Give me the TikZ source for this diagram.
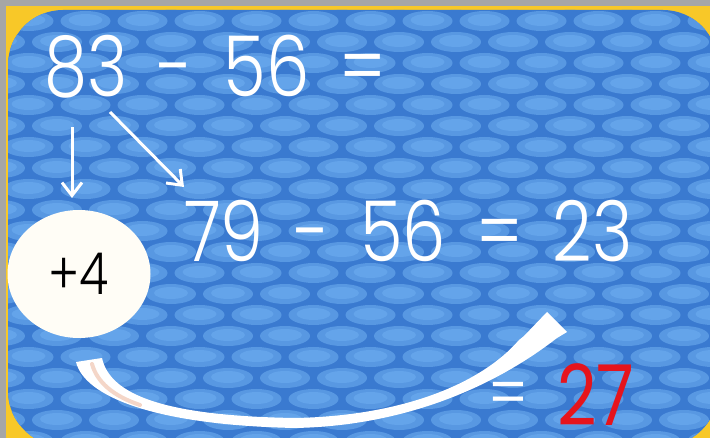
\documentclass[tikz,border=0pt]{standalone}
\usepackage{fontspec}
\newfontfamily\digitfont{Poppins Light}[FakeStretch=0.82,WordSpace=1.6]
\newfontfamily\redfont{Poppins}[FakeStretch=0.82]
\usetikzlibrary{arrows.meta,shapes.geometric}
\definecolor{outergray}{RGB}{166,166,166}
\definecolor{frameyellow}{RGB}{248,200,40}
\definecolor{netblue}{RGB}{58,122,208}
\definecolor{cellblue}{RGB}{88,152,226}
\definecolor{celllight}{RGB}{100,164,234}
\definecolor{cream}{RGB}{255,253,246}
\definecolor{peach}{RGB}{244,214,200}
\definecolor{ansred}{RGB}{230,20,28}
\tikzset{
  eqtext/.style={text=white, font=\digitfont\fontsize{84}{84}\selectfont, inner sep=0pt, anchor=base west},
  arr/.style={white, line width=3pt, -{Straight Barb[length=13pt,width=20pt,line width=3pt]}},
  bubble/.style={ellipse, fill=cream, minimum width=143pt, minimum height=128pt, inner sep=0pt,
    font=\digitfont\fontsize{58}{58}\selectfont, text=black}
}
\begin{document}
\begin{tikzpicture}[x=1pt,y=-1pt]
\useasboundingbox (0,0) rectangle (710,438);
\fill[outergray] (0,0) rectangle (710,438);
\fill[frameyellow] (6,6) rectangle (710,438);
\begin{scope}
  \clip[rounded corners=55pt] (8,10) rectangle (718,446);
  \fill[netblue] (0,0) rectangle (720,450);
  \foreach \r in {0,...,22} {
    \pgfmathsetmacro\yy{\r*21}
    \pgfmathsetmacro\off{mod(\r,2)*28.5}
    \foreach \c in {-1,...,13} {
      \fill[cellblue] ({\c*57+\off},\yy) ellipse [x radius=25, y radius=10];
      \fill[celllight] ({\c*57+\off},{\yy-1}) ellipse [x radius=17, y radius=6];
    }
  }
\end{scope}
% equations
\node[eqtext] (eq1) at (44,97) {83 - 56 =};
\node[eqtext] (eq2) at (184,262) {79 - 56 = 23};
% bubble
\node[bubble] (plus4) at (79,274) {+4};
% arrows
\coordinate (v1) at (72,127);
\coordinate (v2) at (72,198);
\coordinate (d1) at (110,112);
\coordinate (d2) at (184,187);
\draw[arr] (v1) -- (v2);
\draw[arr] (d1) -- (d2);
% swoosh
\fill[white] (76,362) .. controls (84,395) and (150,425) .. (295,428)
  .. controls (400,426) and (490,390) .. (557,338)
  -- (567,332) -- (547,312) -- (524,336) -- (519,340)
  .. controls (480,385) and (400,416) .. (295,418)
  .. controls (165,416) and (110,395) .. (102,358) -- cycle;
\draw[peach, line width=4pt, line cap=round] (92,364) .. controls (97,382) and (113,396) .. (140,405);
% answer
\node[text=white, font=\digitfont\fontsize{72}{72}\selectfont, inner sep=0pt] (eq3) at (508,400) {=};
\node[text=ansred, font=\redfont\fontsize{84}{84}\selectfont, inner sep=0pt, text depth=0pt, anchor=base west] (ans) at (557,425) {27};
\end{tikzpicture}
\end{document}
